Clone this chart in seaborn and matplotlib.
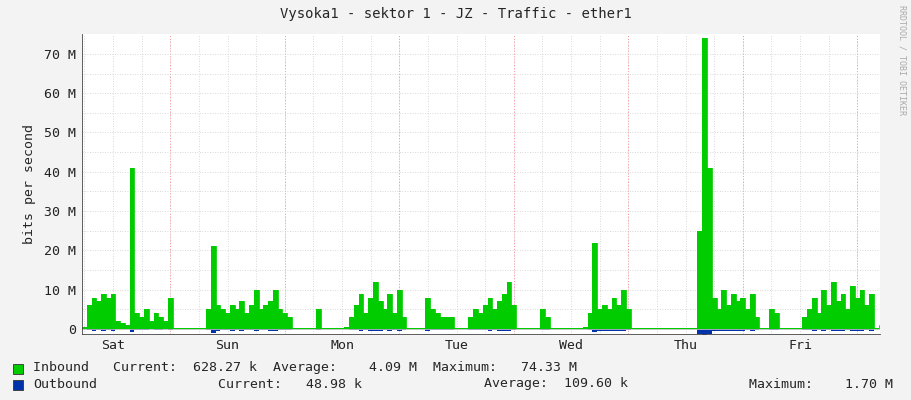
import matplotlib
matplotlib.use("Agg")
import matplotlib.pyplot as plt
import seaborn as sns
import numpy as np
import pandas as pd

# hourly samples starting Sat 05:30, values in Mbit/s
inbound = [0.5, 6, 8, 7, 9, 8, 9, 2, 1.5, 1, 41, 4, 3, 5, 2, 4, 3, 2, 8, 0.2,
           0.2, 0.2, 0.2, 0.2, 0.2, 0.2, 5, 21, 6, 5, 4, 6, 5, 7, 4, 6, 10, 5, 6, 7,
           10, 5, 4, 3, 0.2, 0.2, 0.2, 0.2, 0.3, 5, 0.2, 0.2, 0.2, 0.2, 0.2, 0.5, 3, 6, 9, 4,
           8, 12, 7, 5, 9, 4, 10, 3, 0.3, 0.3, 0.3, 0.3, 8, 5, 4, 3, 3, 3, 0.2, 0.2,
           0.2, 3, 5, 4, 6, 8, 5, 7, 9, 12, 6, 0.2, 0.2, 0.2, 0.2, 0.2, 5, 3, 0.2, 0.2,
           0.2, 0.2, 0.2, 0.2, 0.2, 0.5, 4, 22, 5, 6, 5, 8, 6, 10, 5, 0.2, 0.2, 0.2, 0.2, 0.2,
           0.2, 0.2, 0.2, 0.2, 0.2, 0.2, 0.2, 0.2, 0.2, 25, 74, 41, 8, 5, 10, 6, 9, 7, 8, 5,
           9, 3, 0.3, 0.3, 5, 4, 0.2, 0.2, 0.2, 0.2, 0.2, 3, 5, 8, 4, 10, 6, 12, 7, 9,
           5, 11, 8, 10, 6, 9, 0.3, 1]
outbound = [0.1, 0.3, 0.4, 0.3, 0.4, 0.3, 0.4, 0.1, 0.1, 0.1, 0.8, 0.3, 0.2, 0.3, 0.1, 0.2, 0.2, 0.1, 0.3, 0.0,
            0.0, 0.0, 0.0, 0.0, 0.0, 0.0, 0.3, 0.9, 0.4, 0.3, 0.3, 0.6, 0.3, 0.4, 0.3, 0.3, 0.5, 0.3, 0.3, 0.4,
            0.5, 0.3, 0.2, 0.2, 0.0, 0.0, 0.0, 0.0, 0.0, 0.2, 0.0, 0.0, 0.0, 0.0, 0.0, 0.0, 0.2, 0.3, 0.5, 0.2,
            0.4, 0.6, 0.4, 0.3, 0.4, 0.2, 0.5, 0.2, 0.0, 0.0, 0.0, 0.0, 0.4, 0.3, 0.2, 0.2, 0.2, 0.2, 0.0, 0.0,
            0.0, 0.2, 0.3, 0.2, 0.3, 0.4, 0.3, 0.4, 0.5, 0.6, 0.3, 0.0, 0.0, 0.0, 0.0, 0.0, 0.3, 0.2, 0.0, 0.0,
            0.0, 0.0, 0.0, 0.0, 0.0, 0.0, 0.3, 0.8, 0.5, 0.5, 0.4, 0.5, 0.4, 0.6, 0.3, 0.0, 0.0, 0.0, 0.0, 0.0,
            0.0, 0.0, 0.0, 0.0, 0.0, 0.0, 0.0, 0.0, 0.0, 1.2, 1.7, 1.3, 0.6, 0.4, 0.5, 0.4, 0.5, 0.4, 0.4, 0.3,
            0.4, 0.2, 0.0, 0.0, 0.3, 0.2, 0.0, 0.0, 0.0, 0.0, 0.0, 0.2, 0.3, 0.4, 0.2, 0.5, 0.3, 0.5, 0.4, 0.4,
            0.3, 0.5, 0.4, 0.5, 0.3, 0.4, 0.0, 0.1]
day_labels = ["Sat", "Sun", "Mon", "Tue", "Wed", "Thu", "Fri"]
y_ticks = [0, 10, 20, 30, 40, 50, 60, 70]
y_labels = ["0", "10 M", "20 M", "30 M", "40 M", "50 M", "60 M", "70 M"]

hours = np.arange(len(inbound))
df = pd.DataFrame({"h": hours, "in": inbound, "out": -np.array(outbound)})

sns.set_style("white")
plt.rcParams['font.family'] = ['DejaVu Sans Mono']
fig = plt.figure(figsize=(9.11, 4.0), dpi=100, facecolor="#f3f3f3")
ax = fig.add_axes([82/911, 1-333.7/400, 798/911, (333.7-34.25)/400])
ax.set_facecolor("white")

ax.fill_between(df.h, 0, df["in"], step="post", color="#00cc00", lw=0)
sns.lineplot(data=df, x="h", y="in", drawstyle="steps-post", color="#00cc00", lw=0.6, ax=ax)
ax.fill_between(df.h, 0, df["out"], step="post", color="#0033aa", lw=0)

xmax = 798/114.5*24
ax.set_xlim(0, xmax)
ax.set_ylim(-1.2, 75)
for h in np.arange(0.5, xmax, 6):
    ax.axvline(h, color="#cccccc", ls=(0, (1, 2)), lw=0.6, zorder=0)
for h in np.arange(18.5, xmax, 24):
    ax.axvline(h, color="#ff9999", ls=(0, (1, 2)), lw=0.7, zorder=0)
for y in np.arange(5, 75, 5):
    ax.axhline(y, color="#cccccc", ls=(0, (1, 2)), lw=0.6, zorder=0)
ax.axhline(0, color="#bbbbbb", lw=0.6)

ax.set_xticks([6.5 + 24*i for i in range(7)])
ax.set_xticklabels(day_labels)
ax.set_yticks(y_ticks)
ax.set_yticklabels(y_labels)
ax.tick_params(labelsize=9.5, length=0, colors="#222222", pad=4)
ax.set_xlabel("")
ax.set_ylabel("bits per second", fontsize=9.5, labelpad=6)
for s in ["top", "right"]:
    ax.spines[s].set_visible(False)
ax.spines["left"].set_color("#444444")
ax.spines["bottom"].set_color("#444444")
ax.spines["left"].set_linewidth(0.6)
ax.spines["bottom"].set_linewidth(0.6)

fig.text(0.5, 1-14/400, "Vysoka1 - sektor 1 - JZ - Traffic - ether1", ha="center", va="center", fontsize=10)
fig.text(902/911, 0.85, "RRDTOOL / TOBI OETIKER", rotation=270, ha="center", va="center", fontsize=6, color="#aaaaaa")

fig.patches.append(plt.Rectangle((13/911, 1-374/400), 10/911, 10/400, transform=fig.transFigure, fc="#00cc00", ec="#333333", lw=0.6))
fig.patches.append(plt.Rectangle((13/911, 1-390/400), 10/911, 10/400, transform=fig.transFigure, fc="#0033aa", ec="#333333", lw=0.6))
fs = 9.5
fig.text(33/911, 1-368/400, "Inbound   Current:  628.27 k  Average:    4.09 M  Maximum:   74.33 M", va="center", fontsize=fs)
fig.text(33/911, 1-384/400, "Outbound", va="center", fontsize=fs)
fig.text(218/911, 1-384/400, "Current:   48.98 k", va="center", fontsize=fs)
fig.text(484/911, 1-384/400, "Average:  109.60 k", va="center", fontsize=fs)
fig.text(749/911, 1-384/400, "Maximum:    1.70 M", va="center", fontsize=fs)

fig.savefig("out.png", dpi=100, facecolor=fig.get_facecolor())
